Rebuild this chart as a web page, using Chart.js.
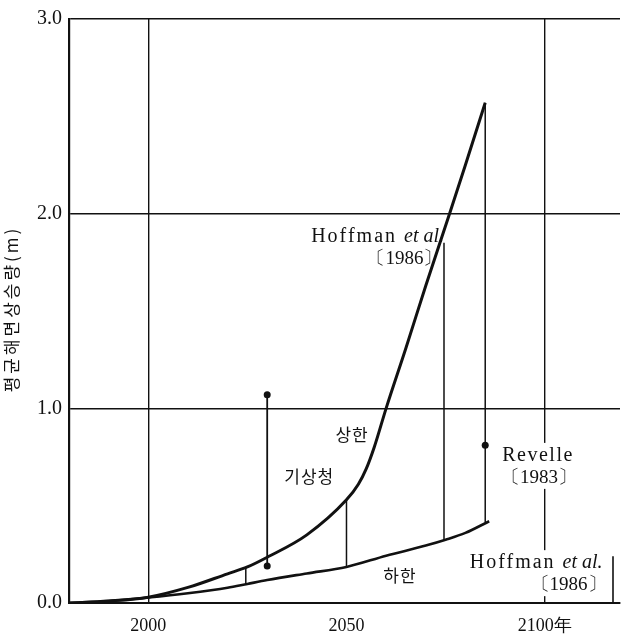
<!DOCTYPE html>
<html>
<head>
<meta charset="utf-8">
<script src="https://cdn.jsdelivr.net/npm/chart.js@4.4.1/dist/chart.umd.min.js"></script>
<style>
  html, body { margin: 0; padding: 0; background: #fff; }
  #wrap { width: 624px; height: 637px; position: relative; }
</style>
</head>
<body>
<div id="wrap"><canvas id="c"></canvas></div>
<script>
// ---- data ----
const xTicks = [2000, 2050, 2100];
const xTickLabels = ['2000', '2050', '2100年'];
const yTicks = [0, 1, 2, 3];
const yTickLabels = ['0.0', '1.0', '2.0', '3.0'];

// upper bound (상한), Hoffman et al. 1986
const upperYears  = [1980, 1990, 2000, 2010, 2020, 2025, 2030, 2040, 2050, 2053, 2055, 2057, 2060, 2065, 2070, 2076, 2080, 2085];
const upperValues = [0.0, 0.01, 0.03, 0.08, 0.15, 0.185, 0.235, 0.35, 0.53, 0.61, 0.69, 0.80, 1.0, 1.31, 1.63, 2.0, 2.25, 2.57];

// lower bound (하한), Hoffman et al. 1986
const lowerYears  = [1980, 1990, 2000, 2010, 2020, 2025, 2030, 2040, 2050, 2060, 2070, 2075, 2080, 2086];
const lowerValues = [0.0, 0.01, 0.028, 0.05, 0.078, 0.098, 0.118, 0.152, 0.185, 0.243, 0.295, 0.325, 0.36, 0.42];

// vertical connectors between the bounds
const rangeYears = [2024.6, 2050, 2074.6, 2085];
const rangeLow   = [0.098, 0.185, 0.32, 0.415];
const rangeHigh  = [0.185, 0.53, 1.85, 2.57];

// Revelle (1983) estimate range and point
const revelleBarYear = 2030;
const revelleBarLow = 0.19;
const revelleBarHigh = 1.07;
const revellePointYear = 2085;
const revellePointValue = 0.81;

const yTitle = '평균해면상승량(m)';

// ---- chart ----
const INK = '#111';
const SERIF = '"Liberation Serif", "DejaVu Serif", serif';
const KR = '"Noto Sans CJK KR", sans-serif';

const toXY = (xs, ys) => xs.map((x, i) => ({ x: x, y: ys[i] }));

const datasets = [
  { data: toXY(upperYears, upperValues), borderColor: INK, borderWidth: 3, pointRadius: 0, cubicInterpolationMode: 'monotone', fill: false },
  { data: toXY(lowerYears, lowerValues), borderColor: INK, borderWidth: 2.6, pointRadius: 0, cubicInterpolationMode: 'monotone', fill: false }
];
rangeYears.forEach((yr, i) => {
  datasets.push({ data: [{ x: yr, y: rangeLow[i] }, { x: yr, y: rangeHigh[i] }], borderColor: INK, borderWidth: 1.5, pointRadius: 0, fill: false });
});
datasets.push({
  data: [{ x: revelleBarYear, y: revelleBarLow }, { x: revelleBarYear, y: revelleBarHigh }],
  borderColor: INK, borderWidth: 1.8, pointRadius: 3.5, pointBackgroundColor: INK, pointBorderColor: INK, pointBorderWidth: 0, fill: false
});
datasets.push({
  data: [{ x: revellePointYear, y: revellePointValue }],
  showLine: false, borderColor: INK, pointRadius: 3.5, pointBackgroundColor: INK, pointBorderColor: INK, pointBorderWidth: 0
});

// text annotations in data coordinates
const notes = [
  { x: 2074.6, y: 1.857, align: 'right', parts: [{ t: 'Hoffman ', font: '20px ' + SERIF, ls: 2 }, { t: 'et al.', font: 'italic 20px ' + SERIF, ls: 0 }] },
  { x: 2074.2, y: 1.74, align: 'right', parts: [{ t: '〔1986〕', font: '19px ' + SERIF, ls: 0 }] },
  { x: 2051.4, y: 0.867, align: 'center', mid: true, parts: [{ t: '상한', font: '17px ' + KR, ls: 1 }] },
  { x: 2040.6, y: 0.648, align: 'center', mid: true, parts: [{ t: '기상청', font: '17px ' + KR, ls: 1 }] },
  { x: 2063.5, y: 0.143, align: 'center', mid: true, parts: [{ t: '하한', font: '17px ' + KR, ls: 1 }] },
  { x: 2089.3, y: 0.73, align: 'left', box: 'rev', parts: [{ t: 'Revelle', font: '20px ' + SERIF, ls: 1.5 }] },
  { x: 2089.0, y: 0.617, align: 'left', box: 'rev', parts: [{ t: '〔1983〕', font: '19px ' + SERIF, ls: 0 }] },
  { x: 2114.6, y: 0.179, align: 'right', box: 'hof', parts: [{ t: 'Hoffman ', font: '20px ' + SERIF, ls: 2 }, { t: 'et al.', font: 'italic 20px ' + SERIF, ls: 0 }] },
  { x: 2115.6, y: 0.066, align: 'right', box: 'hof', parts: [{ t: '〔1986〕', font: '19px ' + SERIF, ls: 0 }] }
];

const notesPlugin = {
  id: 'notes',
  afterDatasetsDraw(chart) {
    const ctx = chart.ctx;
    const xs = chart.scales.x, ys = chart.scales.y;
    const ca = chart.chartArea;
    ctx.save();
    // partial right frame line
    ctx.strokeStyle = INK;
    ctx.lineWidth = 1.6;
    ctx.beginPath();
    ctx.moveTo(ca.right - 7, ys.getPixelForValue(0));
    ctx.lineTo(ca.right - 7, ys.getPixelForValue(0.24));
    ctx.stroke();

    const measure = (n) => {
      let w = 0;
      n.parts.forEach(p => { ctx.font = p.font; ctx.letterSpacing = p.ls + 'px'; w += ctx.measureText(p.t).width; });
      return w;
    };
    // white boxes behind labels
    const boxes = {};
    notes.forEach(n => {
      if (!n.box) return;
      const w = measure(n);
      const px = xs.getPixelForValue(n.x), py = ys.getPixelForValue(n.y);
      const left = n.align === 'right' ? px - w : px;
      const b = boxes[n.box] || { l: 1e9, r: -1e9, t: 1e9, b: -1e9 };
      b.l = Math.min(b.l, left - 3); b.r = Math.max(b.r, left + w + 3);
      b.t = Math.min(b.t, py - 18); b.b = Math.max(b.b, py + 6);
      boxes[n.box] = b;
    });
    ctx.fillStyle = '#fff';
    Object.values(boxes).forEach(b => ctx.fillRect(b.l, b.t, b.r - b.l, b.b - b.t));

    ctx.fillStyle = INK;
    notes.forEach(n => {
      const w = measure(n);
      const px = xs.getPixelForValue(n.x), py = ys.getPixelForValue(n.y);
      let x = n.align === 'right' ? px - w : (n.align === 'center' ? px - w / 2 : px);
      ctx.textBaseline = n.mid ? 'middle' : 'alphabetic';
      ctx.textAlign = 'left';
      n.parts.forEach(p => {
        ctx.font = p.font; ctx.letterSpacing = p.ls + 'px';
        ctx.fillText(p.t, x, py);
        x += ctx.measureText(p.t).width;
      });
    });

    // rotated y-axis title with letter spacing
    ctx.font = '17px ' + KR;
    ctx.letterSpacing = '3px';
    const tw = ctx.measureText(yTitle).width;
    ctx.translate(12, (ca.top + ca.bottom) / 2 - 2);
    ctx.rotate(-Math.PI / 2);
    ctx.textBaseline = 'middle';
    ctx.textAlign = 'left';
    ctx.fillText(yTitle, -tw / 2, 0);
    ctx.letterSpacing = '0px';
    ctx.restore();
  }
};

new Chart(document.getElementById('c'), {
  type: 'line',
  data: { datasets: datasets },
  plugins: [notesPlugin],
  options: {
    responsive: true,
    maintainAspectRatio: false,
    animation: false,
    events: [],
    layout: { padding: { top: 15, right: 0, bottom: 0, left: 0 } },
    plugins: { legend: { display: false }, tooltip: { enabled: false } },
    scales: {
      x: {
        type: 'linear',
        min: 1980,
        max: 2119,
        afterBuildTicks: (s) => { s.ticks = xTicks.map(v => ({ value: v })); },
        afterFit: (s) => { s.height = 34; },
        ticks: {
          padding: 12,
          color: INK,
          font: { family: SERIF, size: 18 },
          maxRotation: 0,
          autoSkip: false,
          callback: (v) => { const i = xTicks.indexOf(v); return i >= 0 ? xTickLabels[i] : ''; }
        },
        grid: {
          drawTicks: false,
          color: (c) => (c.tick && c.tick.value === 2050) ? 'rgba(0,0,0,0)' : INK,
          lineWidth: 1.4
        },
        border: { display: true, color: INK, width: 2 }
      },
      y: {
        type: 'linear',
        min: 0,
        max: 3,
        afterBuildTicks: (s) => { s.ticks = yTicks.map(v => ({ value: v })); },
        afterFit: (s) => { s.width = 69; },
        ticks: {
          padding: 7,
          color: INK,
          font: { family: SERIF, size: 20 },
          callback: (v) => { const i = yTicks.indexOf(v); return i >= 0 ? yTickLabels[i] : ''; }
        },
        grid: { drawTicks: false, color: INK, lineWidth: 1.4 },
        border: { display: true, color: INK, width: 2.2 },
        title: { display: false }
      }
    }
  }
});
</script>
</body>
</html>
